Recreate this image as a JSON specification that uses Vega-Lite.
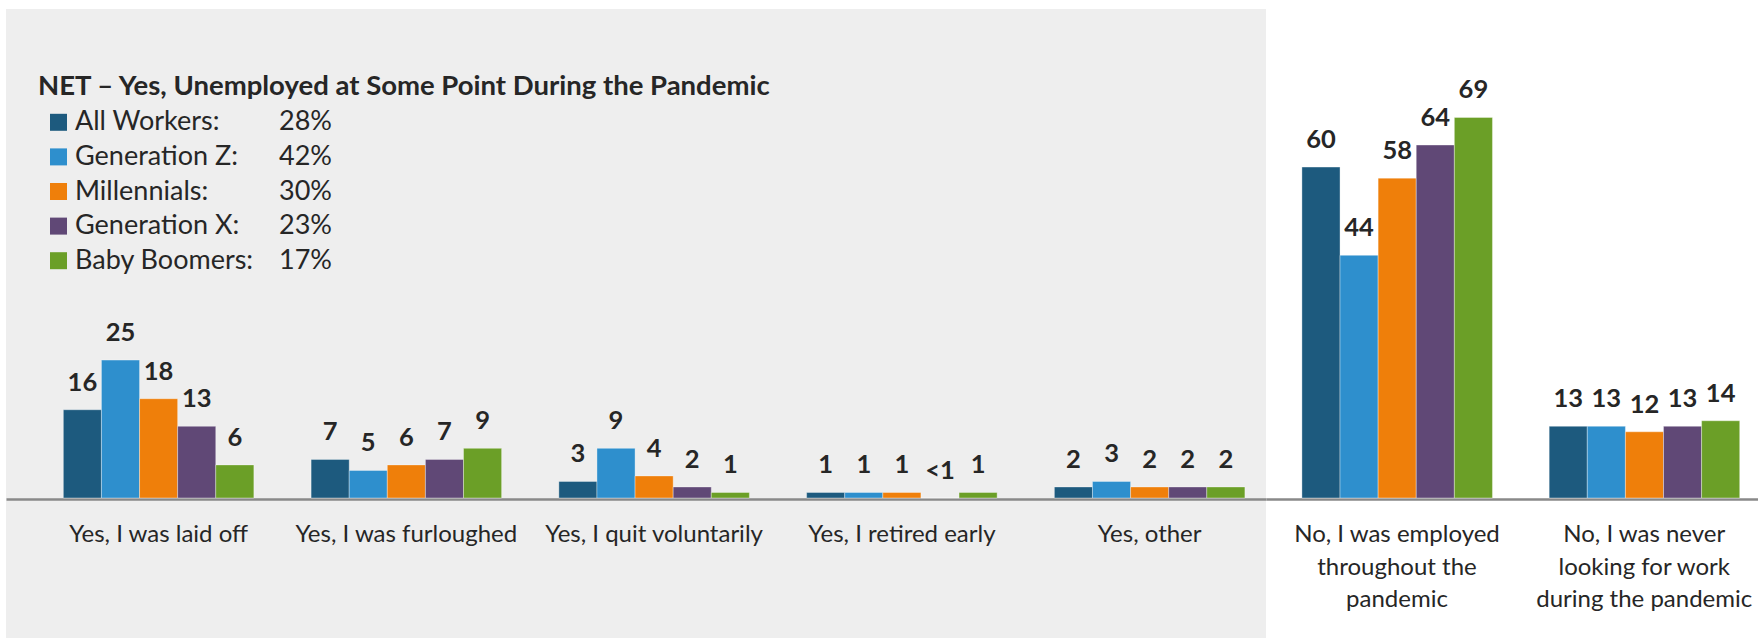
{
  "$schema": "https://vega.github.io/schema/vega-lite/v6.json",
  "padding": {"left": 6, "top": 9, "right": 0, "bottom": 0},
  "background": "white",
  "config": {"font": "Lato", "view": {"stroke": null}},
  "spacing": 0,
  "data": {"values": [
    {"answer": "Yes, I was laid off", "group": "All Workers", "net": "28%", "value": 16, "label": "16"},
    {"answer": "Yes, I was laid off", "group": "Generation Z", "net": "42%", "value": 25, "label": "25"},
    {"answer": "Yes, I was laid off", "group": "Millennials", "net": "30%", "value": 18, "label": "18"},
    {"answer": "Yes, I was laid off", "group": "Generation X", "net": "23%", "value": 13, "label": "13"},
    {"answer": "Yes, I was laid off", "group": "Baby Boomers", "net": "17%", "value": 6, "label": "6"},
    {"answer": "Yes, I was furloughed", "group": "All Workers", "net": "28%", "value": 7, "label": "7"},
    {"answer": "Yes, I was furloughed", "group": "Generation Z", "net": "42%", "value": 5, "label": "5"},
    {"answer": "Yes, I was furloughed", "group": "Millennials", "net": "30%", "value": 6, "label": "6"},
    {"answer": "Yes, I was furloughed", "group": "Generation X", "net": "23%", "value": 7, "label": "7"},
    {"answer": "Yes, I was furloughed", "group": "Baby Boomers", "net": "17%", "value": 9, "label": "9"},
    {"answer": "Yes, I quit voluntarily", "group": "All Workers", "net": "28%", "value": 3, "label": "3"},
    {"answer": "Yes, I quit voluntarily", "group": "Generation Z", "net": "42%", "value": 9, "label": "9"},
    {"answer": "Yes, I quit voluntarily", "group": "Millennials", "net": "30%", "value": 4, "label": "4"},
    {"answer": "Yes, I quit voluntarily", "group": "Generation X", "net": "23%", "value": 2, "label": "2"},
    {"answer": "Yes, I quit voluntarily", "group": "Baby Boomers", "net": "17%", "value": 1, "label": "1"},
    {"answer": "Yes, I retired early", "group": "All Workers", "net": "28%", "value": 1, "label": "1"},
    {"answer": "Yes, I retired early", "group": "Generation Z", "net": "42%", "value": 1, "label": "1"},
    {"answer": "Yes, I retired early", "group": "Millennials", "net": "30%", "value": 1, "label": "1"},
    {"answer": "Yes, I retired early", "group": "Generation X", "net": "23%", "value": 0, "label": "<1"},
    {"answer": "Yes, I retired early", "group": "Baby Boomers", "net": "17%", "value": 1, "label": "1"},
    {"answer": "Yes, other", "group": "All Workers", "net": "28%", "value": 2, "label": "2"},
    {"answer": "Yes, other", "group": "Generation Z", "net": "42%", "value": 3, "label": "3"},
    {"answer": "Yes, other", "group": "Millennials", "net": "30%", "value": 2, "label": "2"},
    {"answer": "Yes, other", "group": "Generation X", "net": "23%", "value": 2, "label": "2"},
    {"answer": "Yes, other", "group": "Baby Boomers", "net": "17%", "value": 2, "label": "2"},
    {"answer": "No, I was employed throughout the pandemic", "group": "All Workers", "net": "28%", "value": 60, "label": "60"},
    {"answer": "No, I was employed throughout the pandemic", "group": "Generation Z", "net": "42%", "value": 44, "label": "44"},
    {"answer": "No, I was employed throughout the pandemic", "group": "Millennials", "net": "30%", "value": 58, "label": "58"},
    {"answer": "No, I was employed throughout the pandemic", "group": "Generation X", "net": "23%", "value": 64, "label": "64"},
    {"answer": "No, I was employed throughout the pandemic", "group": "Baby Boomers", "net": "17%", "value": 69, "label": "69"},
    {"answer": "No, I was never looking for work during the pandemic", "group": "All Workers", "net": "28%", "value": 13, "label": "13"},
    {"answer": "No, I was never looking for work during the pandemic", "group": "Generation Z", "net": "42%", "value": 13, "label": "13"},
    {"answer": "No, I was never looking for work during the pandemic", "group": "Millennials", "net": "30%", "value": 12, "label": "12"},
    {"answer": "No, I was never looking for work during the pandemic", "group": "Generation X", "net": "23%", "value": 13, "label": "13"},
    {"answer": "No, I was never looking for work during the pandemic", "group": "Baby Boomers", "net": "17%", "value": 14, "label": "14"}
  ]},
  "resolve": {
    "scale": {"x": "independent", "y": "independent", "color": "shared", "opacity": "shared"},
    "legend": {"color": "shared", "opacity": "shared"}
  },
  "hconcat": [
    {
      "width": 1260,
      "height": 629,
      "view": {"fill": "#eeeeee", "stroke": null},
      "transform": [{"filter": {"field": "answer", "oneOf": ["Yes, I was laid off", "Yes, I was furloughed", "Yes, I quit voluntarily", "Yes, I retired early", "Yes, other"]}}],
      "encoding": {
        "x": {
          "field": "answer", "type": "nominal", "title": null,
          "scale": {"domain": ["Yes, I was laid off", "Yes, I was furloughed", "Yes, I quit voluntarily", "Yes, I retired early", "Yes, other"], "paddingInner": 0.231, "paddingOuter": 0.1583, "align": 0.731},
          "axis": {"orient": "bottom", "offset": -139, "ticks": false, "domainColor": "#898989", "domainWidth": 2.5, "labelFont": "Lato", "labelFontSize": 24, "labelColor": "#262626", "labelPadding": 23.5, "labelAngle": 0, "labelLimit": 400, "labelOverlap": false, "labelBound": false, "labelBaseline": "top", "labelLineHeight": 32.5}
        },
        "xOffset": {"field": "group", "type": "nominal", "scale": {"domain": ["All Workers", "Generation Z", "Millennials", "Generation X", "Baby Boomers"], "paddingInner": 0, "paddingOuter": 0}},
        "y": {"field": "value", "type": "quantitative", "scale": {"domain": [-25.39, 88.67], "nice": false, "zero": false}, "axis": null}
      },
      "layer": [
        {
          "mark": {"type": "bar", "stroke": "white", "strokeOpacity": 0.35, "strokeWidth": 1},
          "encoding": {
            "y2": {"datum": 0},
            "color": {
              "field": "group", "type": "nominal",
              "scale": {"domain": ["All Workers", "Generation Z", "Millennials", "Generation X", "Baby Boomers"], "range": ["#1d5a7e", "#2e8fcd", "#ef7f0a", "#604876", "#6b9f27"]},
              "legend": {"orient": "none", "legendX": 32, "legendY": 64, "title": "NET – Yes, Unemployed at Some Point During the Pandemic", "titleFont": "Lato", "titleFontSize": 27.5, "titleFontWeight": "bold", "titleColor": "#262626", "titleLimit": 900, "titlePadding": 8.3, "symbolType": "square", "symbolSize": 289, "symbolOffset": 7, "symbolStrokeWidth": 0, "labelFont": "Lato", "labelFontSize": 27, "labelColor": "#262626", "labelOffset": 3, "rowPadding": 6.6, "labelExpr": "datum.label + ':'", "padding": 0, "labelLimit": 300}
            }
          }
        },
        {
          "mark": {"type": "text", "dy": -19, "baseline": "alphabetic", "fontSize": 25.5, "fontWeight": "bold", "color": "#262626"},
          "encoding": {
            "text": {"field": "label"},
            "opacity": {
              "field": "net", "type": "ordinal",
              "scale": {"domain": ["28%", "42%", "30%", "23%", "17%"], "range": [1, 1, 1, 1, 1]},
              "legend": {"orient": "none", "legendX": 236, "legendY": 64, "title": " ", "titleFont": "Lato", "titleFontSize": 27.5, "titleFontWeight": "bold", "titlePadding": 8.3, "symbolType": "M0,0", "symbolSize": 289, "symbolOffset": 7, "symbolOpacity": 0, "symbolStrokeWidth": 0, "symbolFillColor": "transparent", "labelFont": "Lato", "labelFontSize": 27, "labelColor": "#262626", "labelOffset": 3, "rowPadding": 6.6, "padding": 0}
            }
          }
        }
      ]
    },
    {
      "width": 492,
      "height": 629,
      "view": {"stroke": null},
      "transform": [{"filter": {"field": "answer", "oneOf": ["No, I was employed throughout the pandemic", "No, I was never looking for work during the pandemic"]}}],
      "encoding": {
        "x": {
          "field": "answer", "type": "nominal", "title": null,
          "scale": {"domain": ["No, I was employed throughout the pandemic", "No, I was never looking for work during the pandemic"], "paddingInner": 0.231, "paddingOuter": 0.1104, "align": 0.658},
          "axis": {"orient": "bottom", "offset": -139, "ticks": false, "domainColor": "#898989", "domainWidth": 2.5, "labelFont": "Lato", "labelFontSize": 24, "labelColor": "#262626", "labelPadding": 23.5, "labelAngle": 0, "labelLimit": 400, "labelOverlap": false, "labelBound": false, "labelBaseline": "top", "labelLineHeight": 32.5,
            "labelExpr": "datum.value == 'No, I was employed throughout the pandemic' ? ['No, I was employed', 'throughout the', 'pandemic'] : ['No, I was never', 'looking for work', 'during the pandemic']"}
        },
        "xOffset": {"field": "group", "type": "nominal", "scale": {"domain": ["All Workers", "Generation Z", "Millennials", "Generation X", "Baby Boomers"], "paddingInner": 0, "paddingOuter": 0}},
        "y": {"field": "value", "type": "quantitative", "scale": {"domain": [-25.39, 88.67], "nice": false, "zero": false}, "axis": null}
      },
      "layer": [
        {
          "mark": {"type": "bar", "stroke": "white", "strokeOpacity": 0.35, "strokeWidth": 1},
          "encoding": {
            "y2": {"datum": 0},
            "color": {
              "field": "group", "type": "nominal",
              "scale": {"domain": ["All Workers", "Generation Z", "Millennials", "Generation X", "Baby Boomers"], "range": ["#1d5a7e", "#2e8fcd", "#ef7f0a", "#604876", "#6b9f27"]},
              "legend": {"orient": "none", "legendX": 32, "legendY": 64, "title": "NET – Yes, Unemployed at Some Point During the Pandemic", "titleFont": "Lato", "titleFontSize": 27.5, "titleFontWeight": "bold", "titleColor": "#262626", "titleLimit": 900, "titlePadding": 8.3, "symbolType": "square", "symbolSize": 289, "symbolOffset": 7, "symbolStrokeWidth": 0, "labelFont": "Lato", "labelFontSize": 27, "labelColor": "#262626", "labelOffset": 3, "rowPadding": 6.6, "labelExpr": "datum.label + ':'", "padding": 0, "labelLimit": 300}
            }
          }
        },
        {
          "mark": {"type": "text", "dy": -19, "baseline": "alphabetic", "fontSize": 25.5, "fontWeight": "bold", "color": "#262626"},
          "encoding": {
            "text": {"field": "label"},
            "opacity": {
              "field": "net", "type": "ordinal",
              "scale": {"domain": ["28%", "42%", "30%", "23%", "17%"], "range": [1, 1, 1, 1, 1]},
              "legend": {"orient": "none", "legendX": 236, "legendY": 64, "title": " ", "titleFont": "Lato", "titleFontSize": 27.5, "titleFontWeight": "bold", "titlePadding": 8.3, "symbolType": "M0,0", "symbolSize": 289, "symbolOffset": 7, "symbolOpacity": 0, "symbolStrokeWidth": 0, "symbolFillColor": "transparent", "labelFont": "Lato", "labelFontSize": 27, "labelColor": "#262626", "labelOffset": 3, "rowPadding": 6.6, "padding": 0}
            }
          }
        }
      ]
    }
  ]
}
